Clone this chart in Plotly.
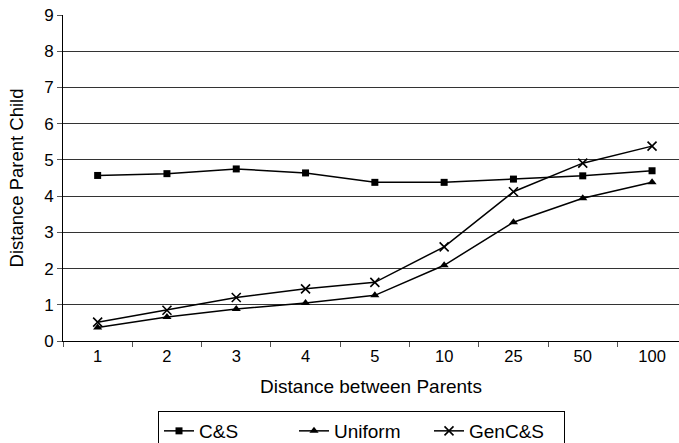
import plotly.graph_objects as go

# Distance between the two parents (categorical x axis)
categories = ["1", "2", "3", "4", "5", "10", "25", "50", "100"]

# Mean parent-child distance for each crossover operator
cs_values = [4.57, 4.62, 4.75, 4.64, 4.38, 4.38, 4.47, 4.56, 4.70]
uniform_values = [0.37, 0.66, 0.88, 1.05, 1.26, 2.09, 3.28, 3.94, 4.38]
gencs_values = [0.52, 0.85, 1.20, 1.44, 1.62, 2.60, 4.12, 4.91, 5.38]

y_ticks = list(range(0, 10))

FONT = "Liberation Sans, Arial, sans-serif"

series = [
    ("C&S", cs_values, "square", 7, 0),
    ("Uniform", uniform_values, "triangle-up", 8, 0),
    ("GenC&S", gencs_values, "x-thin", 9, 1.6),
]

fig = go.Figure()
for name, vals, sym, size, lw in series:
    fig.add_trace(go.Scatter(
        x=categories, y=vals, name=name, mode="lines+markers",
        line=dict(color="black", width=1.5),
        marker=dict(symbol=sym, size=size, color="black",
                    line=dict(color="black", width=lw)),
    ))

W, H = 679, 443
ml, mt, mb = 63, 15, 102
plot_w = W - ml
plot_h = H - mt - mb

fig.update_layout(
    width=W, height=H,
    margin=dict(l=ml, r=0, t=mt, b=mb, autoexpand=False),
    paper_bgcolor="white", plot_bgcolor="white",
    font=dict(family=FONT, color="black", size=17),
    showlegend=True,
    legend=dict(
        orientation="h",
        x=(158 - ml) / plot_w, xanchor="left",
        y=-(411 - (H - mb)) / plot_h, yanchor="top",
        bordercolor="black", borderwidth=1,
        font=dict(family=FONT, size=19, color="black"),
        entrywidth=90,
        itemwidth=30,
    ),
    xaxis=dict(
        type="category",
        range=[-0.5, -0.5 + plot_w / 69.3],
        tickson="boundaries",
        ticks="outside", ticklen=5, tickcolor="#555",
        showline=True, linecolor="black", linewidth=1,
        showgrid=False,
        tickfont=dict(size=16.5),
        title=dict(text="Distance between Parents", font=dict(size=19), standoff=15),
    ),
    yaxis=dict(
        range=[0, 9],
        tickvals=y_ticks,
        ticks="outside", ticklen=5, tickcolor="#555",
        showline=True, linecolor="black", linewidth=1,
        showgrid=True, gridcolor="#333", gridwidth=1,
        zeroline=False,
        tickfont=dict(size=17),
        title=dict(text="Distance Parent Child", font=dict(size=18.5), standoff=15),
    ),
)

fig.write_html("out.html")
